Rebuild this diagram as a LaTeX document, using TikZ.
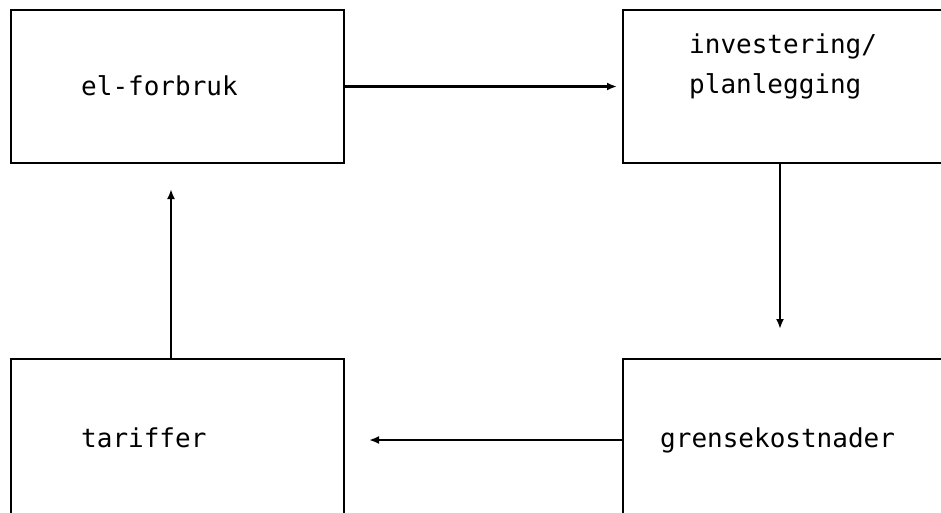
\documentclass[tikz,border=0pt]{standalone}
\usepackage{fontspec}
\newfontfamily\monofont{DejaVu Sans Mono}
\usetikzlibrary{arrows.meta}
\begin{document}
\begin{tikzpicture}[x=1pt,y=-1pt,
  box/.style={draw, line width=2pt, inner sep=0pt},
  lbl/.style={anchor=base west, inner sep=0pt, font=\monofont\fontsize{26}{40}\selectfont},
  arr/.style={-{Latex[length=10pt,width=8pt]}, line width=2.4pt}]
\useasboundingbox (0,0) rectangle (941,512);
\clip (0,0) rectangle (941,512);
% boxes
\node[box, minimum width=333pt, minimum height=153pt] (elf) at (177.5,86.5) {};
\node[box, minimum width=327pt, minimum height=153pt] (inv) at (786.5,86.5) {};
\node[box, minimum width=333pt, minimum height=166pt] (tar) at (177.5,442) {};
\node[box, minimum width=327pt, minimum height=166pt] (gre) at (786.5,442) {};
% labels
\node[lbl] (t1) at (81,95) {el-forbruk};
\node[lbl] (t2) at (689,53) {investering/};
\node[lbl] (t3) at (689,93) {planlegging};
\node[lbl] (t4) at (81,447) {tariffer};
\node[lbl] (t5) at (660,447) {grensekostnader};
% free ends
\coordinate (c1) at (780,329);
\coordinate (c2) at (171,189);
\coordinate (c3) at (369,440);
% connectors
\draw[arr] (elf.east) -- ([xshift=-5pt]inv.west);
\draw[arr] (inv.south -| c1) -- (c1);
\draw[arr] (tar.north -| c2) -- (c2);
\draw[arr] (gre.west |- c3) -- (c3);
\end{tikzpicture}
\end{document}
